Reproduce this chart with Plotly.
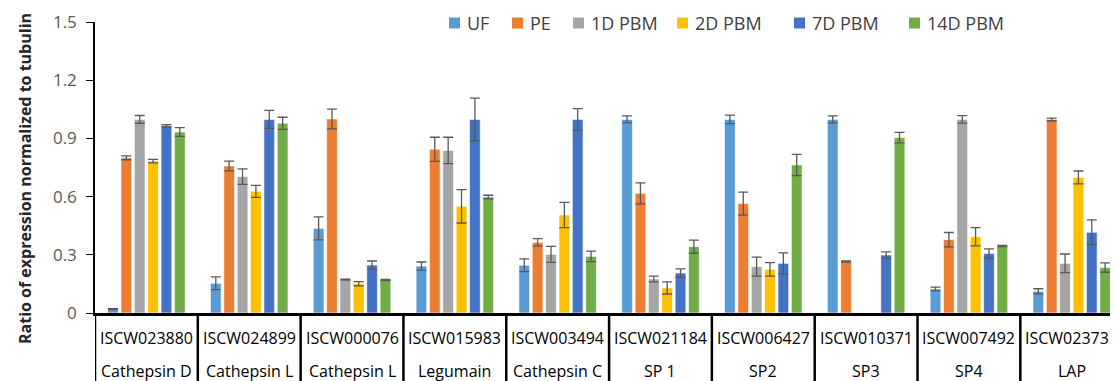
import plotly.graph_objects as go

# ---- data ----
gene_ids = ["ISCW023880", "ISCW024899", "ISCW000076", "ISCW015983", "ISCW003494",
            "ISCW021184", "ISCW006427", "ISCW010371", "ISCW007492", "ISCW023735"]
gene_names = ["Cathepsin D", "Cathepsin L", "Cathepsin L", "Legumain", "Cathepsin C",
              "SP 1", "SP2", "SP3", "SP4", "LAP"]
series_names = ["UF", "PE", "1D PBM", "2D PBM", "7D PBM", "14D PBM"]

uf = [0.02, 0.153, 0.436, 0.242, 0.246, 0.998, 0.998, 0.998, 0.124, 0.112]
pe = [0.80, 0.758, 1.000, 0.844, 0.364, 0.617, 0.564, 0.265, 0.378, 0.998]
d1 = [0.998, 0.703, 0.172, 0.838, 0.302, 0.175, 0.239, None, 0.998, 0.256]
d2 = [0.783, 0.627, 0.151, 0.550, 0.505, 0.129, 0.225, None, 0.393, 0.699]
d7 = [0.965, 0.998, 0.247, 0.998, 0.998, 0.206, 0.256, 0.299, 0.307, 0.416]
d14 = [0.933, 0.978, 0.170, 0.598, 0.292, 0.342, 0.763, 0.904, 0.345, 0.234]

uf_err = [0.003, 0.033, 0.059, 0.021, 0.033, 0.018, 0.022, 0.018, 0.009, 0.013]
pe_err = [0.010, 0.025, 0.051, 0.062, 0.019, 0.054, 0.059, 0.003, 0.037, 0.007]
d1_err = [0.020, 0.040, 0.003, 0.068, 0.041, 0.015, 0.049, None, 0.019, 0.048]
d2_err = [0.009, 0.031, 0.011, 0.086, 0.065, 0.031, 0.035, None, 0.047, 0.033]
d7_err = [0.006, 0.046, 0.021, 0.110, 0.055, 0.021, 0.054, 0.016, 0.024, 0.064]
d14_err = [0.023, 0.031, 0.003, 0.009, 0.027, 0.034, 0.055, 0.027, 0.003, 0.024]

values = [uf, pe, d1, d2, d7, d14]
errors = [uf_err, pe_err, d1_err, d2_err, d7_err, d14_err]
colors = ["#5B9BD5", "#ED7D31", "#A5A5A5", "#FFC000", "#4472C4", "#70AD47"]

y_ticks = [0, 0.3, 0.6, 0.9, 1.2, 1.5]
y_tick_text = ["0", "0.3", "0.6", "0.9", "1.2", "1.5"]

# ---- layout geometry (screen pixels; page body has an 8px margin) ----
PAGE_W, PAGE_H = 1118, 381
BODY = 8
L, T, B = 95, 22, 68           # plot area edges on screen
W = PAGE_W - L
H = PAGE_H - T - B


def px(xp):
    return (xp - L) / W


def py(yp):
    return (T + H - yp) / H


FONT = "Open Sans"

fig = go.Figure()
for name, vals, errs, col in zip(series_names, values, errors, colors):
    fig.add_trace(go.Bar(
        name=name, x=gene_ids, y=vals,
        marker=dict(color=col, line=dict(color="white", width=0.6)),
        error_y=dict(type="data", array=errs, visible=True,
                     color="#595959", thickness=1.3, width=5),
        showlegend=False,
    ))

shapes = []
annotations = []

# category separators below the axis
for i in range(len(gene_ids)):
    shapes.append(dict(type="line", xref="x", yref="paper",
                       x0=i - 0.5, x1=i - 0.5, y0=0, y1=py(PAGE_H + 5),
                       line=dict(color="black", width=2.5)))

# category labels
for gid, gname in zip(gene_ids, gene_names):
    annotations.append(dict(x=gid, xref="x", y=py(338), yref="paper",
                            text=gid, showarrow=False,
                            font=dict(family=FONT, size=16, color="black"),
                            xanchor="center", yanchor="middle"))
    annotations.append(dict(x=gid, xref="x", y=py(371), yref="paper",
                            text=gname, showarrow=False,
                            font=dict(family=FONT, size=16, color="black"),
                            xanchor="center", yanchor="middle"))

# legend (manual, to match spacing)
legend_left = [449, 512, 573, 677, 794, 909]
for name, col, xl in zip(series_names, colors, legend_left):
    shapes.append(dict(type="rect", xref="paper", yref="paper",
                       x0=px(xl), x1=px(xl + 11), y0=py(28.5), y1=py(17.5),
                       fillcolor=col, line=dict(width=0)))
    annotations.append(dict(x=px(xl + 16), y=py(23), xref="paper", yref="paper",
                            text=name, showarrow=False,
                            font=dict(family=FONT, size=18, color="#404040"),
                            xanchor="left", yanchor="middle"))

# y title
annotations.append(dict(x=px(25), y=py(179), xref="paper", yref="paper",
                        text="<b>Ratio of expression normalized to tubulin</b>",
                        textangle=-90, showarrow=False,
                        font=dict(family=FONT, size=16, color="#262626"),
                        xanchor="center", yanchor="middle"))

fig.update_layout(
    width=PAGE_W - BODY, height=PAGE_H - BODY,
    margin=dict(l=L - BODY, r=0, t=T - BODY, b=B),
    paper_bgcolor="white", plot_bgcolor="white",
    barmode="group", bargap=0.22, bargroupgap=0.2,
    shapes=shapes, annotations=annotations,
    showlegend=False,
    xaxis=dict(type="category", range=[-0.5, 9.45], showticklabels=False,
               showline=True, linecolor="black", linewidth=2.5,
               ticks="", showgrid=False, zeroline=False),
    yaxis=dict(range=[0, 1.5], tickvals=y_ticks, ticktext=y_tick_text,
               showline=True, linecolor="black", linewidth=1.5,
               ticks="outside", ticklen=7, tickcolor="black", tickwidth=1.2,
               ticklabelstandoff=6,
               tickfont=dict(family=FONT, size=17, color="#595959"),
               showgrid=False, zeroline=False),
)

fig.write_html("out.html")
